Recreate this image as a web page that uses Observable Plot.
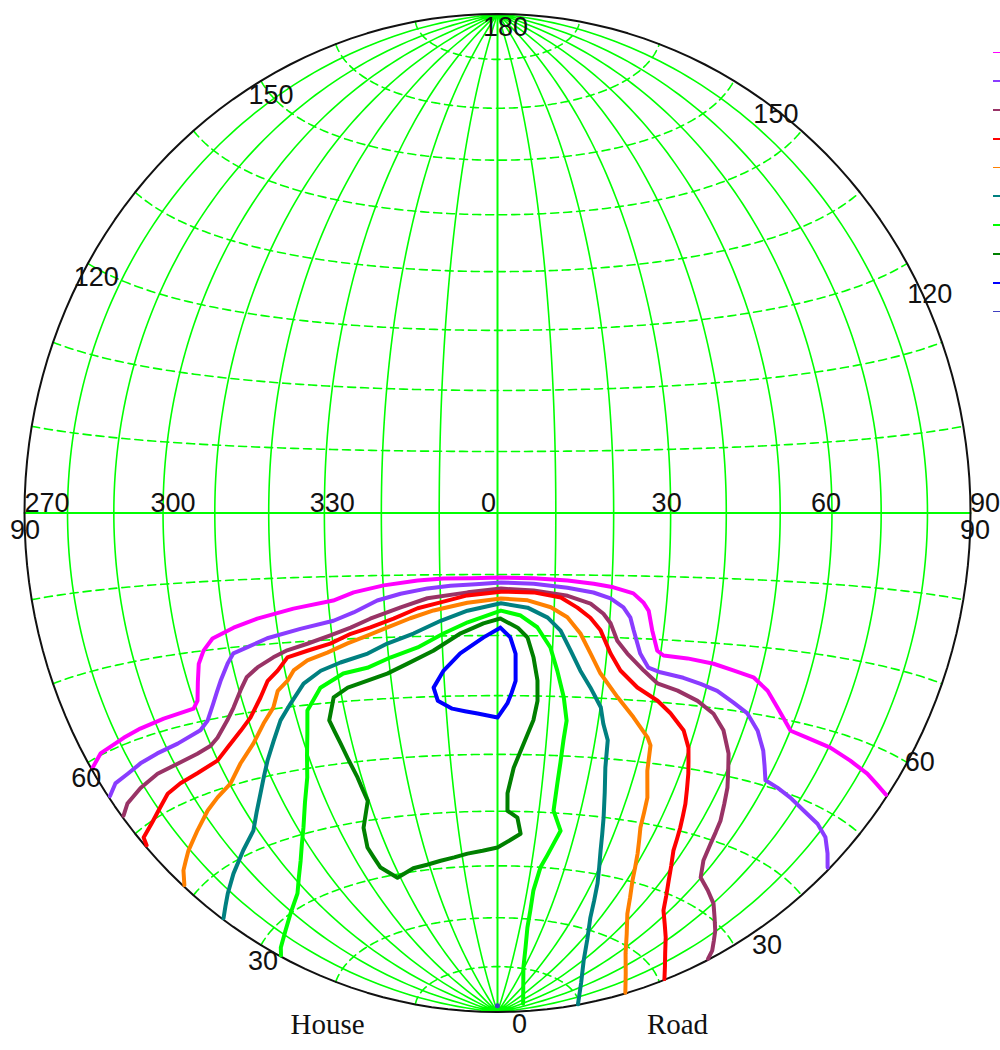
<!DOCTYPE html>
<html>
<head>
<meta charset="utf-8">
<script src="https://cdn.jsdelivr.net/npm/d3@7"></script>
<script src="https://cdn.jsdelivr.net/npm/@observablehq/plot@0.6"></script>
<style>
  html, body { margin: 0; padding: 0; background: #fff; width: 1000px; height: 1050px; overflow: hidden; }
  #chart { position: absolute; left: 0; top: 0; }
  #legend { position: absolute; left: 993px; top: 38px; width: 40px; }
  #legend .row { height: 28.8px; position: relative; }
  #legend .bar { position: absolute; left: 0; top: 13.5px; width: 24px; height: 1.8px; }
</style>
</head>
<body>
<div id="chart"></div>
<div id="legend"></div>
<script>
// ---------- data: contour lines as [longitude, latitude] pairs on the net ----------
const magenta = [[-89.5,-30.8],[-85.8,-29.8],[-78.6,-29.2],[-73.9,-28.8],[-67.8,-28.4],[-60.6,-28.0],[-59.2,-27.0],[-56.7,-21.8],[-55.1,-20.0],[-52.8,-18.4],[-48.3,-17.1],[-43.5,-16.0],[-36.5,-14.8],[-29.1,-13.8],[-25.3,-12.6],[-19.9,-11.6],[-13.9,-10.9],[-9.4,-10.6],[0.5,-10.5],[6.3,-10.6],[12.2,-10.9],[16.8,-11.4],[20.3,-11.9],[23.9,-12.8],[25.8,-14.2],[26.9,-15.5],[27.9,-18.6],[29.3,-21.8],[30.6,-22.5],[35.2,-22.7],[40.4,-23.2],[44.5,-23.9],[48.8,-24.6],[52.4,-26.3],[55.5,-28.5],[60.1,-31.4],[64.4,-31.8],[70.4,-32.2],[76.4,-32.9],[82.0,-33.5],[89.5,-34.5]];
const purple = [[-89.5,-34.7],[-86.3,-33.8],[-82.0,-33.5],[-77.7,-33.0],[-72.7,-32.6],[-67.1,-32.2],[-60.9,-31.2],[-58.6,-30.1],[-56.1,-27.8],[-53.2,-24.7],[-50.9,-22.3],[-49.3,-20.9],[-46.3,-20.2],[-42.2,-19.1],[-35.7,-18.0],[-29.4,-17.0],[-25.6,-15.8],[-21.2,-14.0],[-17.0,-13.0],[-12.2,-12.2],[-8.2,-11.8],[0.6,-11.3],[6.3,-11.5],[12.2,-12.1],[16.8,-12.8],[19.9,-13.7],[22.3,-15.1],[23.7,-16.7],[24.5,-18.7],[26.2,-22.4],[28.1,-24.6],[30.5,-25.2],[35.1,-25.8],[38.7,-26.5],[42.3,-27.3],[46.2,-28.8],[49.7,-30.1],[53.1,-32.4],[56.0,-35.1],[59.6,-39.2],[63.2,-39.7],[67.5,-40.4],[72.5,-41.3],[78.0,-42.0],[82.4,-42.9],[86.2,-44.3],[89.3,-45.5]];
const maroon = [[-89.5,-37.5],[-86.5,-36.6],[-81.0,-35.8],[-75.1,-35.1],[-69.3,-34.8],[-63.8,-34.3],[-60.1,-33.7],[-57.9,-32.8],[-54.4,-30.6],[-52.2,-28.9],[-49.7,-26.5],[-47.8,-24.7],[-45.2,-23.4],[-41.7,-22.1],[-38.8,-21.2],[-34.8,-20.4],[-30.3,-19.3],[-26.4,-18.2],[-22.7,-16.9],[-17.1,-15.2],[-12.3,-13.8],[-5.2,-12.9],[0.6,-12.3],[6.3,-12.6],[12.3,-13.4],[16.4,-14.6],[18.8,-16.2],[20.2,-17.7],[21.7,-20.5],[23.8,-22.5],[27.3,-25.1],[30.3,-27.0],[34.5,-27.9],[38.9,-29.2],[42.8,-30.9],[45.9,-33.2],[48.8,-36.6],[51.9,-41.7],[54.5,-46.8],[55.7,-50.5],[57.0,-53.3],[59.9,-55.8],[64.9,-57.0],[70.2,-58.2],[79.7,-60.8],[86.9,-62.6],[89.5,-63.5]];
const red = [[-89.5,-41.9],[-88.7,-41.0],[-83.9,-40.2],[-79.3,-39.1],[-75.5,-38.0],[-71.1,-37.4],[-66.0,-36.9],[-60.1,-36.0],[-56.6,-34.5],[-52.4,-32.5],[-49.4,-30.8],[-46.1,-28.0],[-43.8,-25.6],[-41.4,-24.2],[-39.0,-22.3],[-35.0,-21.5],[-30.5,-20.6],[-26.5,-19.2],[-22.8,-18.3],[-18.5,-17.0],[-14.1,-15.4],[-10.0,-14.5],[-5.3,-13.4],[0.6,-12.8],[6.3,-12.9],[11.1,-13.7],[14.1,-15.3],[16.5,-16.9],[18.5,-18.9],[20.7,-22.6],[22.9,-25.3],[26.6,-27.9],[31.0,-29.8],[34.1,-31.6],[37.7,-34.1],[39.8,-36.7],[41.8,-40.8],[44.1,-45.6],[45.8,-49.5],[47.5,-53.3],[51.9,-58.0],[58.2,-62.6],[68.5,-65.8],[75.7,-67.5],[89.5,-69.3]];
const orange = [[-89.5,-48.4],[-86.1,-47.1],[-80.5,-45.6],[-74.4,-44.0],[-68.7,-42.2],[-64.5,-41.0],[-59.8,-39.7],[-55.3,-37.2],[-50.7,-34.7],[-47.1,-32.0],[-44.1,-29.8],[-42.3,-27.3],[-39.9,-25.9],[-38.3,-24.4],[-35.3,-23.0],[-31.3,-22.0],[-27.3,-20.7],[-23.5,-19.6],[-19.7,-18.4],[-15.5,-17.0],[-11.3,-15.8],[-5.3,-14.6],[0.6,-13.9],[5.3,-14.2],[9.4,-15.3],[12.4,-16.9],[14.9,-19.5],[17.0,-22.7],[19.2,-25.9],[23.1,-29.7],[26.9,-32.8],[30.7,-35.9],[31.7,-37.1],[32.6,-41.3],[34.7,-45.7],[36.0,-50.8],[38.6,-55.2],[41.7,-59.8],[48.0,-65.3],[63.0,-71.0],[89.5,-74.3]];
const teal = [[-89.5,-54.5],[-81.2,-52.9],[-74.6,-51.3],[-67.1,-49.2],[-61.1,-47.2],[-54.2,-42.3],[-49.2,-37.7],[-43.4,-31.9],[-40.4,-29.5],[-36.9,-26.6],[-33.1,-24.8],[-29.1,-23.7],[-23.8,-22.5],[-20.0,-21.0],[-15.1,-19.5],[-10.1,-17.5],[-5.3,-15.9],[0.6,-14.7],[5.3,-15.4],[8.9,-17.0],[11.3,-19.1],[13.3,-22.3],[15.4,-25.6],[17.6,-28.3],[20.1,-31.5],[21.1,-34.2],[22.6,-36.9],[23.3,-41.5],[26.0,-50.0],[28.3,-55.8],[31.8,-61.6],[36.4,-67.8],[50.3,-75.2],[89.5,-80.2]];
const lime = [[-89.5,-62.7],[-86.1,-62.2],[-70.8,-60.0],[-63.0,-58.1],[-54.7,-53.8],[-48.5,-49.0],[-42.0,-41.4],[-38.7,-34.5],[-37.4,-30.9],[-33.8,-27.5],[-28.9,-25.5],[-24.2,-24.8],[-19.7,-23.3],[-14.5,-21.8],[-9.7,-19.6],[-5.3,-17.8],[0.6,-15.9],[4.1,-16.7],[7.1,-18.6],[9.6,-21.9],[11.1,-25.7],[12.7,-30.1],[13.7,-34.0],[13.5,-37.4],[13.4,-44.8],[13.5,-49.6],[16.2,-53.1],[15.1,-55.5],[12.8,-60.0],[12.1,-64.4],[13.3,-71.7],[19.5,-79.8],[61.2,-86.4]];
const darkGreen = [[0.5,-17.2],[-2.5,-18.0],[-6.6,-19.6],[-11.7,-22.4],[-16.6,-24.4],[-20.6,-25.9],[-24.5,-26.9],[-28.5,-27.8],[-31.6,-29.2],[-33.5,-32.8],[-32.4,-36.7],[-30.9,-42.6],[-30.3,-46.7],[-33.8,-51.1],[-35.1,-54.5],[-34.3,-58.3],[-30.9,-60.6],[-25.0,-59.4],[-16.4,-58.6],[-8.4,-57.6],[0.0,-56.6],[6.0,-54.0],[4.9,-51.1],[2.4,-49.9],[2.3,-46.8],[3.5,-42.3],[5.4,-38.1],[7.1,-34.1],[7.7,-30.8],[7.5,-27.4],[6.6,-23.6],[5.4,-20.3],[3.6,-18.7],[0.5,-17.2]];
const blue = [[0.5,-18.7],[-2.5,-20.3],[-6.8,-22.9],[-10.0,-25.7],[-12.1,-28.5],[-11.5,-30.7],[-8.8,-32.1],[-3.9,-33.0],[0.0,-33.7],[1.9,-31.3],[2.7,-29.5],[3.4,-27.5],[3.3,-23.0],[2.3,-20.3],[0.5,-18.7]];
const lastSeries = [[-0.5,-88.6]];

const seriesLines = [magenta, purple, maroon, red, orange, teal, lime, darkGreen, blue];
const seriesColors = ["#ff00ff", "#8a3cff", "#993366", "#ff0000", "#ff8000", "#008080", "#00ff00", "#008000", "#0000ff", "#4040c0"];

// grid (10 degree Schmidt net)
const gridLons = [-80, -70, -60, -50, -40, -30, -20, -10, 10, 20, 30, 40, 50, 60, 70, 80];
const gridLats = [-80, -70, -60, -50, -40, -30, -20, -10, 10, 20, 30, 40, 50, 60, 70, 80];

// labels
const rimLabels = ["180", "150", "120", "60", "30", "150", "120", "60", "30", "0"];
const rimLon = [0, -89.9, -89.9, -89.9, -89.9, 89.9, 89.9, 89.9, 89.9, 0];
const rimLat = [89.9, 60, 30, -30, -60, 60, 30, -30, -60, -89.9];
const rimDx = [8, 10, 8, -2, 2, 42, 23, 13, 33, 22];
const rimDy = [13, 14, 14, 16, 16, 33, 31, 0, 0, 13];

const eqLabels = ["270", "300", "330", "0", "30", "60", "90", "90", "90"];
const eqLon = [-89.9, -60, -30, 0, 30, 60, 89.9, -89.9, 89.9];
const eqDx = [22, 10, 8, -9, -4, -6, 15, 0, 5];
const eqDy = [-10, -10, -10, -10, -10, -10, -10, 17, 17];

const sideLabels = ["House", "Road"];
const sideDx = [-170, 180];

// ---------- projection: equal-area (Schmidt) net, slightly taller than wide ----------
const cx = 497, cy = 512.5, rx = 473, ry = 499;
const base = d3.geoAzimuthalEqualArea()
  .rotate([0, 0])
  .clipAngle(90)
  .scale(rx / Math.SQRT2)
  .translate([cx, cy])
  .precision(0.1);
const stretch = d3.geoTransform({
  point(x, y) { this.stream.point(x, cy + (y - cy) * ry / rx); }
});
const netProjection = { stream: (s) => base.stream(stretch.stream(s)) };

const latSteps = d3.range(-90, 90.001, 1);
const lonSteps = d3.range(-90, 90.001, 1);
const meridians = { type: "MultiLineString", coordinates: gridLons.map((lon) => latSteps.map((lat) => [lon, lat])) };
const parallels = { type: "MultiLineString", coordinates: gridLats.map((lat) => lonSteps.map((lon) => [lon, lat])) };
const equator = { type: "LineString", coordinates: lonSteps.map((lon) => [lon, 0]) };
const centralMeridian = { type: "LineString", coordinates: d3.range(-89.9, 89.95, 0.5).map((lat) => [0, lat]) };

const features = seriesLines.map((coords, i) => ({
  type: "Feature",
  properties: { color: seriesColors[i] },
  geometry: { type: "LineString", coordinates: coords }
}));

const labelFont = "'Liberation Sans', Arial, sans-serif";
const textMarks = [];
rimLabels.forEach((t, i) => {
  textMarks.push(Plot.text([{ t, lon: rimLon[i], lat: rimLat[i] }], {
    x: "lon", y: "lat", text: "t", dx: rimDx[i], dy: rimDy[i], fill: "#111", fontSize: 27
  }));
});
eqLabels.forEach((t, i) => {
  textMarks.push(Plot.text([{ t, lon: eqLon[i], lat: 0 }], {
    x: "lon", y: "lat", text: "t", dx: eqDx[i], dy: eqDy[i], fill: "#111", fontSize: 27
  }));
});
sideLabels.forEach((t, i) => {
  textMarks.push(Plot.text([{ t, lon: 0, lat: -89.9 }], {
    x: "lon", y: "lat", text: "t", dx: sideDx[i], dy: 13, fill: "#111", fontSize: 29,
    fontFamily: "'Liberation Serif', 'DejaVu Serif', serif"
  }));
});

const chart = Plot.plot({
  width: 1000,
  height: 1050,
  margin: 0,
  projection: netProjection,
  color: { type: "identity" },
  style: { fontFamily: labelFont, background: "white", overflow: "visible" },
  marks: [
    Plot.geo([meridians], { stroke: "#00ff00", strokeWidth: 1.6, fill: "none" }),
    Plot.geo([parallels], { stroke: "#00ff00", strokeWidth: 1.6, strokeDasharray: "8,5", fill: "none" }),
    Plot.geo([centralMeridian], { stroke: "#00ff00", strokeWidth: 2, fill: "none" }),
    Plot.geo([equator], { stroke: "#00ff00", strokeWidth: 2, fill: "none" }),
    Plot.sphere({ stroke: "#111", strokeWidth: 2, fill: "none" }),
    Plot.geo(features, { stroke: (d) => d.properties.color, strokeWidth: 4, strokeLinejoin: "round", strokeLinecap: "round", fill: "none" }),
    Plot.dot(lastSeries, { x: (d) => d[0], y: (d) => d[1], r: 2.5, fill: seriesColors[9], stroke: "none" }),
    ...textMarks
  ]
});
document.getElementById("chart").append(chart);

// legend (entries start at the right edge of the window; only the line keys are visible)
const legend = document.getElementById("legend");
seriesColors.forEach((c) => {
  const row = document.createElement("div");
  row.className = "row";
  const bar = document.createElement("div");
  bar.className = "bar";
  bar.style.background = c;
  row.append(bar);
  legend.append(row);
});
</script>
</body>
</html>
